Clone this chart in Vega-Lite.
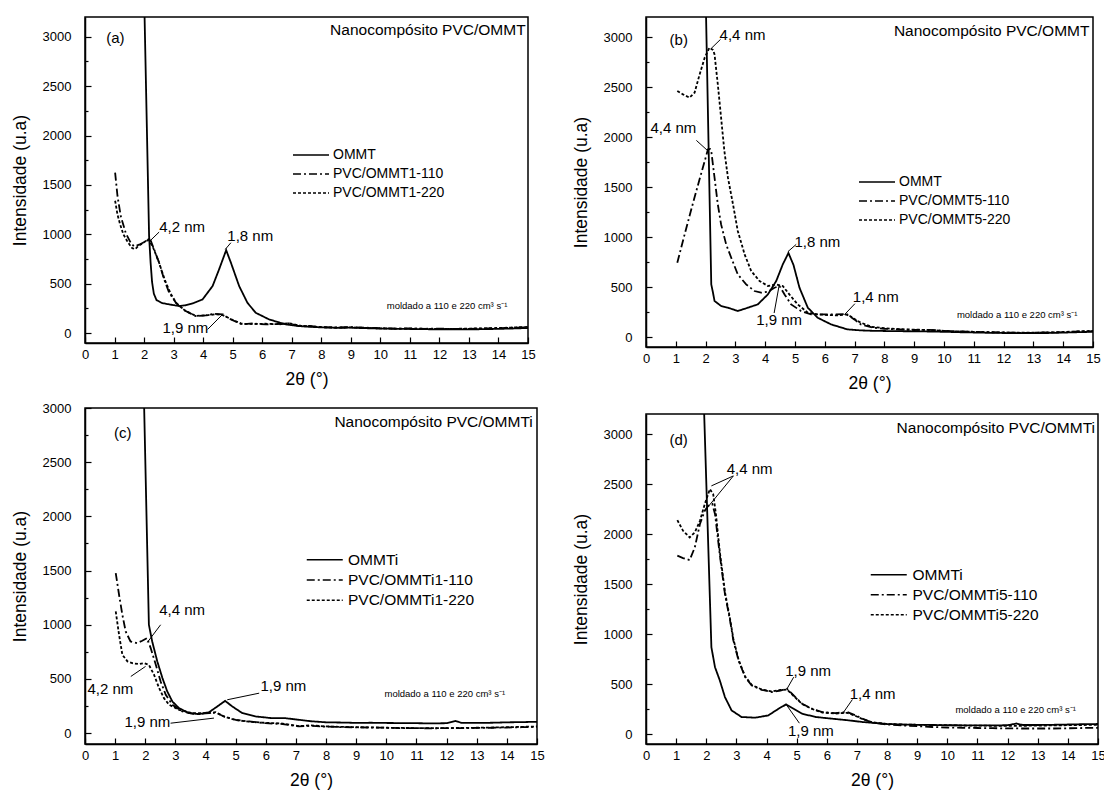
{
  "$schema": "https://vega.github.io/schema/vega-lite/v6.json",
  "background": "white",
  "padding": {"left": 10, "top": 16, "right": 0, "bottom": 0},
  "config": {
    "font": "Liberation Sans",
    "view": {"stroke": "black", "strokeWidth": 1.5},
    "axis": {
      "grid": false, "domainColor": "black", "domainWidth": 1.5,
      "tickColor": "black", "tickWidth": 1.2,
      "labelColor": "black", "titleColor": "black",
      "labelFont": "Liberation Sans", "titleFont": "Liberation Sans",
      "labelFontSize": 13, "titleFontSize": 17.5, "titleFontWeight": "normal",
      "labelOverlap": false, "labelFlush": false
    },
    "axisX": {"labelPadding": 11, "titlePadding": 9},
    "axisY": {"labelPadding": 20, "titlePadding": 12.5},
    "legend": {"labelFont": "Liberation Sans", "labelColor": "black"},
    "text": {"font": "Liberation Sans", "color": "black"}
  },
  "datasets": {
    "a": [
      {"serie":"OMMT","x":1.99,"y":3600},{"serie":"OMMT","x":2.17,"y":983},{"serie":"OMMT","x":2.22,"y":720},{"serie":"OMMT","x":2.27,"y":520},{"serie":"OMMT","x":2.33,"y":400},{"serie":"OMMT","x":2.42,"y":335},{"serie":"OMMT","x":2.6,"y":305},{"serie":"OMMT","x":2.9,"y":288},{"serie":"OMMT","x":3.2,"y":274},{"serie":"OMMT","x":3.4,"y":282},{"serie":"OMMT","x":3.64,"y":300},{"serie":"OMMT","x":3.98,"y":341},{"serie":"OMMT","x":4.32,"y":476},{"serie":"OMMT","x":4.54,"y":645},{"serie":"OMMT","x":4.78,"y":840},{"serie":"OMMT","x":4.94,"y":713},{"serie":"OMMT","x":5.22,"y":476},{"serie":"OMMT","x":5.5,"y":307},{"serie":"OMMT","x":5.78,"y":206},{"serie":"OMMT","x":6.24,"y":138},{"serie":"OMMT","x":6.8,"y":88},{"serie":"OMMT","x":7.25,"y":71},{"serie":"OMMT","x":7.6,"y":64},{"serie":"OMMT","x":8,"y":58},{"serie":"OMMT","x":8.5,"y":54},{"serie":"OMMT","x":9,"y":55},{"serie":"OMMT","x":9.5,"y":50},{"serie":"OMMT","x":10,"y":46},{"serie":"OMMT","x":10.5,"y":44},{"serie":"OMMT","x":11,"y":42},{"serie":"OMMT","x":11.5,"y":40},{"serie":"OMMT","x":12,"y":38},{"serie":"OMMT","x":12.5,"y":37},{"serie":"OMMT","x":13,"y":38},{"serie":"OMMT","x":13.5,"y":40},{"serie":"OMMT","x":14,"y":43},{"serie":"OMMT","x":14.5,"y":47},{"serie":"OMMT","x":15,"y":52},
      {"serie":"PVC/OMMT1-110","x":1.02,"y":1624},{"serie":"PVC/OMMT1-110","x":1.1,"y":1388},{"serie":"PVC/OMMT1-110","x":1.21,"y":1185},{"serie":"PVC/OMMT1-110","x":1.38,"y":1013},{"serie":"PVC/OMMT1-110","x":1.55,"y":912},{"serie":"PVC/OMMT1-110","x":1.66,"y":878},{"serie":"PVC/OMMT1-110","x":1.83,"y":895},{"serie":"PVC/OMMT1-110","x":2.06,"y":929},{"serie":"PVC/OMMT1-110","x":2.2,"y":955},{"serie":"PVC/OMMT1-110","x":2.34,"y":848},{"serie":"PVC/OMMT1-110","x":2.51,"y":713},{"serie":"PVC/OMMT1-110","x":2.68,"y":544},{"serie":"PVC/OMMT1-110","x":2.85,"y":409},{"serie":"PVC/OMMT1-110","x":3.08,"y":307},{"serie":"PVC/OMMT1-110","x":3.41,"y":223},{"serie":"PVC/OMMT1-110","x":3.75,"y":172},{"serie":"PVC/OMMT1-110","x":4.09,"y":179},{"serie":"PVC/OMMT1-110","x":4.37,"y":196},{"serie":"PVC/OMMT1-110","x":4.66,"y":189},{"serie":"PVC/OMMT1-110","x":4.94,"y":138},{"serie":"PVC/OMMT1-110","x":5.33,"y":88},{"serie":"PVC/OMMT1-110","x":5.67,"y":98},{"serie":"PVC/OMMT1-110","x":6.12,"y":88},{"serie":"PVC/OMMT1-110","x":6.69,"y":95},{"serie":"PVC/OMMT1-110","x":6.9,"y":98},{"serie":"PVC/OMMT1-110","x":7.25,"y":71},{"serie":"PVC/OMMT1-110","x":7.6,"y":72},{"serie":"PVC/OMMT1-110","x":8,"y":62},{"serie":"PVC/OMMT1-110","x":8.5,"y":58},{"serie":"PVC/OMMT1-110","x":9,"y":60},{"serie":"PVC/OMMT1-110","x":9.5,"y":55},{"serie":"PVC/OMMT1-110","x":10,"y":50},{"serie":"PVC/OMMT1-110","x":10.5,"y":46},{"serie":"PVC/OMMT1-110","x":11,"y":47},{"serie":"PVC/OMMT1-110","x":11.5,"y":44},{"serie":"PVC/OMMT1-110","x":12,"y":46},{"serie":"PVC/OMMT1-110","x":12.5,"y":42},{"serie":"PVC/OMMT1-110","x":13,"y":44},{"serie":"PVC/OMMT1-110","x":13.5,"y":47},{"serie":"PVC/OMMT1-110","x":14,"y":50},{"serie":"PVC/OMMT1-110","x":14.5,"y":55},{"serie":"PVC/OMMT1-110","x":15,"y":60},
      {"serie":"PVC/OMMT1-220","x":1.02,"y":1340},{"serie":"PVC/OMMT1-220","x":1.1,"y":1200},{"serie":"PVC/OMMT1-220","x":1.19,"y":1100},{"serie":"PVC/OMMT1-220","x":1.3,"y":1000},{"serie":"PVC/OMMT1-220","x":1.45,"y":920},{"serie":"PVC/OMMT1-220","x":1.6,"y":860},{"serie":"PVC/OMMT1-220","x":1.7,"y":850},{"serie":"PVC/OMMT1-220","x":1.8,"y":880},{"serie":"PVC/OMMT1-220","x":2.0,"y":920},{"serie":"PVC/OMMT1-220","x":2.15,"y":950},{"serie":"PVC/OMMT1-220","x":2.3,"y":870},{"serie":"PVC/OMMT1-220","x":2.5,"y":720},{"serie":"PVC/OMMT1-220","x":2.7,"y":540},{"serie":"PVC/OMMT1-220","x":2.9,"y":400},{"serie":"PVC/OMMT1-220","x":3.1,"y":300},{"serie":"PVC/OMMT1-220","x":3.4,"y":225},{"serie":"PVC/OMMT1-220","x":3.75,"y":175},{"serie":"PVC/OMMT1-220","x":4.1,"y":180},{"serie":"PVC/OMMT1-220","x":4.4,"y":190},{"serie":"PVC/OMMT1-220","x":4.65,"y":185},{"serie":"PVC/OMMT1-220","x":4.95,"y":140},{"serie":"PVC/OMMT1-220","x":5.3,"y":95},{"serie":"PVC/OMMT1-220","x":5.7,"y":92},{"serie":"PVC/OMMT1-220","x":6.1,"y":95},{"serie":"PVC/OMMT1-220","x":6.6,"y":90},{"serie":"PVC/OMMT1-220","x":6.9,"y":100},{"serie":"PVC/OMMT1-220","x":7.3,"y":75},{"serie":"PVC/OMMT1-220","x":7.6,"y":70},{"serie":"PVC/OMMT1-220","x":8,"y":60},{"serie":"PVC/OMMT1-220","x":8.5,"y":56},{"serie":"PVC/OMMT1-220","x":9,"y":58},{"serie":"PVC/OMMT1-220","x":9.5,"y":53},{"serie":"PVC/OMMT1-220","x":10,"y":48},{"serie":"PVC/OMMT1-220","x":10.5,"y":45},{"serie":"PVC/OMMT1-220","x":11,"y":45},{"serie":"PVC/OMMT1-220","x":11.5,"y":44},{"serie":"PVC/OMMT1-220","x":12,"y":44},{"serie":"PVC/OMMT1-220","x":12.5,"y":43},{"serie":"PVC/OMMT1-220","x":13,"y":46},{"serie":"PVC/OMMT1-220","x":13.5,"y":48},{"serie":"PVC/OMMT1-220","x":14,"y":52},{"serie":"PVC/OMMT1-220","x":14.5,"y":57},{"serie":"PVC/OMMT1-220","x":15,"y":63}
    ],
    "b": [
      {"serie":"OMMT","x":1.99,"y":3600},{"serie":"OMMT","x":2.19,"y":526},{"serie":"OMMT","x":2.25,"y":440},{"serie":"OMMT","x":2.3,"y":360},{"serie":"OMMT","x":2.52,"y":310},{"serie":"OMMT","x":2.75,"y":293},{"serie":"OMMT","x":3.08,"y":260},{"serie":"OMMT","x":3.42,"y":293},{"serie":"OMMT","x":3.75,"y":326},{"serie":"OMMT","x":4.09,"y":426},{"serie":"OMMT","x":4.37,"y":560},{"serie":"OMMT","x":4.59,"y":726},{"serie":"OMMT","x":4.78,"y":840},{"serie":"OMMT","x":4.95,"y":720},{"serie":"OMMT","x":5.15,"y":493},{"serie":"OMMT","x":5.43,"y":293},{"serie":"OMMT","x":5.76,"y":193},{"serie":"OMMT","x":6.21,"y":126},{"serie":"OMMT","x":6.76,"y":76},{"serie":"OMMT","x":7.21,"y":66},{"serie":"OMMT","x":7.6,"y":62},{"serie":"OMMT","x":8,"y":60},{"serie":"OMMT","x":8.5,"y":58},{"serie":"OMMT","x":9,"y":57},{"serie":"OMMT","x":9.5,"y":55},{"serie":"OMMT","x":10,"y":52},{"serie":"OMMT","x":10.5,"y":48},{"serie":"OMMT","x":11,"y":45},{"serie":"OMMT","x":11.5,"y":42},{"serie":"OMMT","x":12,"y":40},{"serie":"OMMT","x":12.5,"y":38},{"serie":"OMMT","x":13,"y":38},{"serie":"OMMT","x":13.5,"y":40},{"serie":"OMMT","x":14,"y":44},{"serie":"OMMT","x":14.5,"y":48},{"serie":"OMMT","x":15,"y":52},
      {"serie":"PVC/OMMT5-110","x":1.05,"y":743},{"serie":"PVC/OMMT5-110","x":1.3,"y":1030},{"serie":"PVC/OMMT5-110","x":1.55,"y":1310},{"serie":"PVC/OMMT5-110","x":1.8,"y":1580},{"serie":"PVC/OMMT5-110","x":2.08,"y":1876},{"serie":"PVC/OMMT5-110","x":2.15,"y":1880},{"serie":"PVC/OMMT5-110","x":2.19,"y":1860},{"serie":"PVC/OMMT5-110","x":2.3,"y":1593},{"serie":"PVC/OMMT5-110","x":2.41,"y":1326},{"serie":"PVC/OMMT5-110","x":2.52,"y":1126},{"serie":"PVC/OMMT5-110","x":2.69,"y":926},{"serie":"PVC/OMMT5-110","x":2.86,"y":793},{"serie":"PVC/OMMT5-110","x":3.08,"y":626},{"serie":"PVC/OMMT5-110","x":3.36,"y":526},{"serie":"PVC/OMMT5-110","x":3.64,"y":460},{"serie":"PVC/OMMT5-110","x":3.86,"y":443},{"serie":"PVC/OMMT5-110","x":4.09,"y":453},{"serie":"PVC/OMMT5-110","x":4.31,"y":493},{"serie":"PVC/OMMT5-110","x":4.48,"y":510},{"serie":"PVC/OMMT5-110","x":4.65,"y":426},{"serie":"PVC/OMMT5-110","x":4.87,"y":326},{"serie":"PVC/OMMT5-110","x":5.2,"y":260},{"serie":"PVC/OMMT5-110","x":5.54,"y":226},{"serie":"PVC/OMMT5-110","x":5.87,"y":226},{"serie":"PVC/OMMT5-110","x":6.32,"y":226},{"serie":"PVC/OMMT5-110","x":6.71,"y":230},{"serie":"PVC/OMMT5-110","x":6.99,"y":176},{"serie":"PVC/OMMT5-110","x":7.21,"y":126},{"serie":"PVC/OMMT5-110","x":7.6,"y":95},{"serie":"PVC/OMMT5-110","x":8,"y":82},{"serie":"PVC/OMMT5-110","x":8.5,"y":75},{"serie":"PVC/OMMT5-110","x":9,"y":70},{"serie":"PVC/OMMT5-110","x":9.5,"y":72},{"serie":"PVC/OMMT5-110","x":10,"y":62},{"serie":"PVC/OMMT5-110","x":10.5,"y":55},{"serie":"PVC/OMMT5-110","x":11,"y":52},{"serie":"PVC/OMMT5-110","x":11.5,"y":48},{"serie":"PVC/OMMT5-110","x":12,"y":45},{"serie":"PVC/OMMT5-110","x":12.5,"y":42},{"serie":"PVC/OMMT5-110","x":13,"y":42},{"serie":"PVC/OMMT5-110","x":13.5,"y":45},{"serie":"PVC/OMMT5-110","x":14,"y":48},{"serie":"PVC/OMMT5-110","x":14.5,"y":55},{"serie":"PVC/OMMT5-110","x":15,"y":58},
      {"serie":"PVC/OMMT5-220","x":1.05,"y":2460},{"serie":"PVC/OMMT5-220","x":1.24,"y":2426},{"serie":"PVC/OMMT5-220","x":1.46,"y":2393},{"serie":"PVC/OMMT5-220","x":1.63,"y":2443},{"serie":"PVC/OMMT5-220","x":1.8,"y":2626},{"serie":"PVC/OMMT5-220","x":1.97,"y":2793},{"serie":"PVC/OMMT5-220","x":2.13,"y":2893},{"serie":"PVC/OMMT5-220","x":2.25,"y":2870},{"serie":"PVC/OMMT5-220","x":2.3,"y":2826},{"serie":"PVC/OMMT5-220","x":2.41,"y":2526},{"serie":"PVC/OMMT5-220","x":2.52,"y":2193},{"serie":"PVC/OMMT5-220","x":2.63,"y":1860},{"serie":"PVC/OMMT5-220","x":2.75,"y":1593},{"serie":"PVC/OMMT5-220","x":2.92,"y":1326},{"serie":"PVC/OMMT5-220","x":3.08,"y":1060},{"serie":"PVC/OMMT5-220","x":3.31,"y":826},{"serie":"PVC/OMMT5-220","x":3.53,"y":660},{"serie":"PVC/OMMT5-220","x":3.81,"y":560},{"serie":"PVC/OMMT5-220","x":4.09,"y":510},{"serie":"PVC/OMMT5-220","x":4.37,"y":526},{"serie":"PVC/OMMT5-220","x":4.59,"y":510},{"serie":"PVC/OMMT5-220","x":4.81,"y":426},{"serie":"PVC/OMMT5-220","x":5.09,"y":326},{"serie":"PVC/OMMT5-220","x":5.43,"y":243},{"serie":"PVC/OMMT5-220","x":5.76,"y":226},{"serie":"PVC/OMMT5-220","x":6.09,"y":220},{"serie":"PVC/OMMT5-220","x":6.43,"y":216},{"serie":"PVC/OMMT5-220","x":6.76,"y":226},{"serie":"PVC/OMMT5-220","x":7.1,"y":160},{"serie":"PVC/OMMT5-220","x":7.21,"y":143},{"serie":"PVC/OMMT5-220","x":7.6,"y":100},{"serie":"PVC/OMMT5-220","x":8,"y":88},{"serie":"PVC/OMMT5-220","x":8.5,"y":78},{"serie":"PVC/OMMT5-220","x":9,"y":74},{"serie":"PVC/OMMT5-220","x":9.5,"y":70},{"serie":"PVC/OMMT5-220","x":10,"y":62},{"serie":"PVC/OMMT5-220","x":10.5,"y":56},{"serie":"PVC/OMMT5-220","x":11,"y":52},{"serie":"PVC/OMMT5-220","x":11.5,"y":48},{"serie":"PVC/OMMT5-220","x":12,"y":45},{"serie":"PVC/OMMT5-220","x":12.5,"y":44},{"serie":"PVC/OMMT5-220","x":13,"y":44},{"serie":"PVC/OMMT5-220","x":13.5,"y":46},{"serie":"PVC/OMMT5-220","x":14,"y":50},{"serie":"PVC/OMMT5-220","x":14.5,"y":56},{"serie":"PVC/OMMT5-220","x":15,"y":62}
    ],
    "c": [
      {"serie":"OMMTi","x":1.94,"y":3300},{"serie":"OMMTi","x":2.12,"y":1000},{"serie":"OMMTi","x":2.23,"y":846},{"serie":"OMMTi","x":2.4,"y":661},{"serie":"OMMTi","x":2.57,"y":508},{"serie":"OMMTi","x":2.73,"y":385},{"serie":"OMMTi","x":2.9,"y":292},{"serie":"OMMTi","x":3.12,"y":231},{"serie":"OMMTi","x":3.45,"y":185},{"serie":"OMMTi","x":3.79,"y":175},{"serie":"OMMTi","x":4.12,"y":194},{"serie":"OMMTi","x":4.39,"y":246},{"serie":"OMMTi","x":4.65,"y":298},{"serie":"OMMTi","x":4.89,"y":246},{"serie":"OMMTi","x":5.22,"y":185},{"serie":"OMMTi","x":5.66,"y":154},{"serie":"OMMTi","x":6.22,"y":138},{"serie":"OMMTi","x":6.66,"y":138},{"serie":"OMMTi","x":7.1,"y":123},{"serie":"OMMTi","x":7.5,"y":110},{"serie":"OMMTi","x":8,"y":100},{"serie":"OMMTi","x":8.5,"y":98},{"serie":"OMMTi","x":9,"y":95},{"serie":"OMMTi","x":9.5,"y":96},{"serie":"OMMTi","x":10,"y":94},{"serie":"OMMTi","x":10.5,"y":93},{"serie":"OMMTi","x":11,"y":92},{"serie":"OMMTi","x":11.5,"y":90},{"serie":"OMMTi","x":12,"y":92},{"serie":"OMMTi","x":12.3,"y":112},{"serie":"OMMTi","x":12.5,"y":95},{"serie":"OMMTi","x":13,"y":94},{"serie":"OMMTi","x":13.5,"y":96},{"serie":"OMMTi","x":14,"y":100},{"serie":"OMMTi","x":14.5,"y":102},{"serie":"OMMTi","x":15,"y":105},
      {"serie":"PVC/OMMTi1-110","x":1.02,"y":1477},{"serie":"PVC/OMMTi1-110","x":1.13,"y":1277},{"serie":"PVC/OMMTi1-110","x":1.24,"y":1092},{"serie":"PVC/OMMTi1-110","x":1.35,"y":938},{"serie":"PVC/OMMTi1-110","x":1.51,"y":846},{"serie":"PVC/OMMTi1-110","x":1.73,"y":831},{"serie":"PVC/OMMTi1-110","x":1.9,"y":852},{"serie":"PVC/OMMTi1-110","x":2.06,"y":877},{"serie":"PVC/OMMTi1-110","x":2.18,"y":785},{"serie":"PVC/OMMTi1-110","x":2.35,"y":631},{"serie":"PVC/OMMTi1-110","x":2.51,"y":477},{"serie":"PVC/OMMTi1-110","x":2.68,"y":354},{"serie":"PVC/OMMTi1-110","x":2.9,"y":262},{"serie":"PVC/OMMTi1-110","x":3.23,"y":200},{"serie":"PVC/OMMTi1-110","x":3.67,"y":175},{"serie":"PVC/OMMTi1-110","x":4.12,"y":185},{"serie":"PVC/OMMTi1-110","x":4.34,"y":190},{"serie":"PVC/OMMTi1-110","x":4.61,"y":154},{"serie":"PVC/OMMTi1-110","x":5.0,"y":123},{"serie":"PVC/OMMTi1-110","x":5.44,"y":108},{"serie":"PVC/OMMTi1-110","x":5.99,"y":92},{"serie":"PVC/OMMTi1-110","x":6.5,"y":85},{"serie":"PVC/OMMTi1-110","x":7.1,"y":62},{"serie":"PVC/OMMTi1-110","x":7.5,"y":68},{"serie":"PVC/OMMTi1-110","x":8,"y":60},{"serie":"PVC/OMMTi1-110","x":8.5,"y":56},{"serie":"PVC/OMMTi1-110","x":9,"y":54},{"serie":"PVC/OMMTi1-110","x":9.5,"y":52},{"serie":"PVC/OMMTi1-110","x":10,"y":50},{"serie":"PVC/OMMTi1-110","x":10.5,"y":47},{"serie":"PVC/OMMTi1-110","x":11,"y":46},{"serie":"PVC/OMMTi1-110","x":11.5,"y":45},{"serie":"PVC/OMMTi1-110","x":12,"y":46},{"serie":"PVC/OMMTi1-110","x":12.5,"y":47},{"serie":"PVC/OMMTi1-110","x":13,"y":48},{"serie":"PVC/OMMTi1-110","x":13.5,"y":50},{"serie":"PVC/OMMTi1-110","x":14,"y":52},{"serie":"PVC/OMMTi1-110","x":14.5,"y":55},{"serie":"PVC/OMMTi1-110","x":15,"y":58},
      {"serie":"PVC/OMMTi1-220","x":1.02,"y":1123},{"serie":"PVC/OMMTi1-220","x":1.13,"y":908},{"serie":"PVC/OMMTi1-220","x":1.24,"y":723},{"serie":"PVC/OMMTi1-220","x":1.41,"y":662},{"serie":"PVC/OMMTi1-220","x":1.57,"y":646},{"serie":"PVC/OMMTi1-220","x":1.79,"y":637},{"serie":"PVC/OMMTi1-220","x":1.96,"y":646},{"serie":"PVC/OMMTi1-220","x":2.12,"y":631},{"serie":"PVC/OMMTi1-220","x":2.29,"y":539},{"serie":"PVC/OMMTi1-220","x":2.46,"y":415},{"serie":"PVC/OMMTi1-220","x":2.62,"y":323},{"serie":"PVC/OMMTi1-220","x":2.79,"y":262},{"serie":"PVC/OMMTi1-220","x":3.12,"y":215},{"serie":"PVC/OMMTi1-220","x":3.56,"y":185},{"serie":"PVC/OMMTi1-220","x":4.12,"y":185},{"serie":"PVC/OMMTi1-220","x":4.34,"y":194},{"serie":"PVC/OMMTi1-220","x":4.61,"y":154},{"serie":"PVC/OMMTi1-220","x":5.0,"y":120},{"serie":"PVC/OMMTi1-220","x":5.5,"y":105},{"serie":"PVC/OMMTi1-220","x":6.0,"y":95},{"serie":"PVC/OMMTi1-220","x":6.5,"y":90},{"serie":"PVC/OMMTi1-220","x":7.1,"y":65},{"serie":"PVC/OMMTi1-220","x":7.5,"y":72},{"serie":"PVC/OMMTi1-220","x":8,"y":62},{"serie":"PVC/OMMTi1-220","x":8.5,"y":58},{"serie":"PVC/OMMTi1-220","x":9,"y":55},{"serie":"PVC/OMMTi1-220","x":9.5,"y":53},{"serie":"PVC/OMMTi1-220","x":10,"y":50},{"serie":"PVC/OMMTi1-220","x":10.5,"y":48},{"serie":"PVC/OMMTi1-220","x":11,"y":47},{"serie":"PVC/OMMTi1-220","x":11.5,"y":46},{"serie":"PVC/OMMTi1-220","x":12,"y":47},{"serie":"PVC/OMMTi1-220","x":12.5,"y":48},{"serie":"PVC/OMMTi1-220","x":13,"y":50},{"serie":"PVC/OMMTi1-220","x":13.5,"y":52},{"serie":"PVC/OMMTi1-220","x":14,"y":55},{"serie":"PVC/OMMTi1-220","x":14.5,"y":58},{"serie":"PVC/OMMTi1-220","x":15,"y":62}
    ],
    "d": [
      {"serie":"OMMTi","x":1.9,"y":3500},{"serie":"OMMTi","x":2.17,"y":868},{"serie":"OMMTi","x":2.29,"y":668},{"serie":"OMMTi","x":2.45,"y":535},{"serie":"OMMTi","x":2.62,"y":369},{"serie":"OMMTi","x":2.84,"y":236},{"serie":"OMMTi","x":3.17,"y":170},{"serie":"OMMTi","x":3.62,"y":163},{"serie":"OMMTi","x":4.06,"y":186},{"serie":"OMMTi","x":4.4,"y":253},{"serie":"OMMTi","x":4.65,"y":296},{"serie":"OMMTi","x":4.9,"y":253},{"serie":"OMMTi","x":5.18,"y":203},{"serie":"OMMTi","x":5.63,"y":170},{"serie":"OMMTi","x":6.18,"y":153},{"serie":"OMMTi","x":6.74,"y":136},{"serie":"OMMTi","x":7.18,"y":120},{"serie":"OMMTi","x":7.5,"y":112},{"serie":"OMMTi","x":8,"y":100},{"serie":"OMMTi","x":8.5,"y":95},{"serie":"OMMTi","x":9,"y":92},{"serie":"OMMTi","x":9.5,"y":90},{"serie":"OMMTi","x":10,"y":88},{"serie":"OMMTi","x":10.5,"y":87},{"serie":"OMMTi","x":11,"y":86},{"serie":"OMMTi","x":11.5,"y":86},{"serie":"OMMTi","x":12,"y":88},{"serie":"OMMTi","x":12.3,"y":105},{"serie":"OMMTi","x":12.5,"y":90},{"serie":"OMMTi","x":13,"y":90},{"serie":"OMMTi","x":13.5,"y":92},{"serie":"OMMTi","x":14,"y":95},{"serie":"OMMTi","x":14.5,"y":98},{"serie":"OMMTi","x":15,"y":100},
      {"serie":"PVC/OMMTi5-110","x":1.04,"y":1783},{"serie":"PVC/OMMTi5-110","x":1.23,"y":1759},{"serie":"PVC/OMMTi5-110","x":1.45,"y":1739},{"serie":"PVC/OMMTi5-110","x":1.62,"y":1866},{"serie":"PVC/OMMTi5-110","x":1.79,"y":2100},{"serie":"PVC/OMMTi5-110","x":1.95,"y":2233},{"serie":"PVC/OMMTi5-110","x":2.06,"y":2280},{"serie":"PVC/OMMTi5-110","x":2.2,"y":2300},{"serie":"PVC/OMMTi5-110","x":2.29,"y":2200},{"serie":"PVC/OMMTi5-110","x":2.45,"y":1790},{"serie":"PVC/OMMTi5-110","x":2.62,"y":1400},{"serie":"PVC/OMMTi5-110","x":2.79,"y":1134},{"serie":"PVC/OMMTi5-110","x":2.9,"y":935},{"serie":"PVC/OMMTi5-110","x":3.07,"y":735},{"serie":"PVC/OMMTi5-110","x":3.29,"y":569},{"serie":"PVC/OMMTi5-110","x":3.51,"y":485},{"serie":"PVC/OMMTi5-110","x":3.84,"y":442},{"serie":"PVC/OMMTi5-110","x":4.18,"y":419},{"serie":"PVC/OMMTi5-110","x":4.46,"y":435},{"serie":"PVC/OMMTi5-110","x":4.68,"y":452},{"serie":"PVC/OMMTi5-110","x":4.9,"y":386},{"serie":"PVC/OMMTi5-110","x":5.18,"y":303},{"serie":"PVC/OMMTi5-110","x":5.51,"y":253},{"serie":"PVC/OMMTi5-110","x":5.85,"y":219},{"serie":"PVC/OMMTi5-110","x":6.29,"y":209},{"serie":"PVC/OMMTi5-110","x":6.68,"y":219},{"serie":"PVC/OMMTi5-110","x":6.96,"y":186},{"serie":"PVC/OMMTi5-110","x":7.18,"y":153},{"serie":"PVC/OMMTi5-110","x":7.5,"y":115},{"serie":"PVC/OMMTi5-110","x":8,"y":95},{"serie":"PVC/OMMTi5-110","x":8.5,"y":85},{"serie":"PVC/OMMTi5-110","x":9,"y":78},{"serie":"PVC/OMMTi5-110","x":9.5,"y":70},{"serie":"PVC/OMMTi5-110","x":10,"y":65},{"serie":"PVC/OMMTi5-110","x":10.5,"y":62},{"serie":"PVC/OMMTi5-110","x":11,"y":60},{"serie":"PVC/OMMTi5-110","x":11.5,"y":58},{"serie":"PVC/OMMTi5-110","x":12,"y":56},{"serie":"PVC/OMMTi5-110","x":12.5,"y":55},{"serie":"PVC/OMMTi5-110","x":13,"y":55},{"serie":"PVC/OMMTi5-110","x":13.5,"y":55},{"serie":"PVC/OMMTi5-110","x":14,"y":57},{"serie":"PVC/OMMTi5-110","x":14.5,"y":60},{"serie":"PVC/OMMTi5-110","x":15,"y":62},
      {"serie":"PVC/OMMTi5-220","x":1.04,"y":2139},{"serie":"PVC/OMMTi5-220","x":1.23,"y":2032},{"serie":"PVC/OMMTi5-220","x":1.45,"y":1966},{"serie":"PVC/OMMTi5-220","x":1.62,"y":2016},{"serie":"PVC/OMMTi5-220","x":1.79,"y":2132},{"serie":"PVC/OMMTi5-220","x":1.95,"y":2299},{"serie":"PVC/OMMTi5-220","x":2.12,"y":2449},{"serie":"PVC/OMMTi5-220","x":2.23,"y":2399},{"serie":"PVC/OMMTi5-220","x":2.32,"y":2200},{"serie":"PVC/OMMTi5-220","x":2.45,"y":1820},{"serie":"PVC/OMMTi5-220","x":2.62,"y":1420},{"serie":"PVC/OMMTi5-220","x":2.79,"y":1150},{"serie":"PVC/OMMTi5-220","x":2.9,"y":950},{"serie":"PVC/OMMTi5-220","x":3.07,"y":745},{"serie":"PVC/OMMTi5-220","x":3.29,"y":575},{"serie":"PVC/OMMTi5-220","x":3.51,"y":490},{"serie":"PVC/OMMTi5-220","x":3.84,"y":445},{"serie":"PVC/OMMTi5-220","x":4.18,"y":425},{"serie":"PVC/OMMTi5-220","x":4.46,"y":440},{"serie":"PVC/OMMTi5-220","x":4.68,"y":445},{"serie":"PVC/OMMTi5-220","x":4.9,"y":380},{"serie":"PVC/OMMTi5-220","x":5.18,"y":300},{"serie":"PVC/OMMTi5-220","x":5.51,"y":250},{"serie":"PVC/OMMTi5-220","x":5.85,"y":215},{"serie":"PVC/OMMTi5-220","x":6.29,"y":205},{"serie":"PVC/OMMTi5-220","x":6.68,"y":212},{"serie":"PVC/OMMTi5-220","x":6.96,"y":180},{"serie":"PVC/OMMTi5-220","x":7.18,"y":150},{"serie":"PVC/OMMTi5-220","x":7.5,"y":118},{"serie":"PVC/OMMTi5-220","x":8,"y":100},{"serie":"PVC/OMMTi5-220","x":8.5,"y":95},{"serie":"PVC/OMMTi5-220","x":9,"y":92},{"serie":"PVC/OMMTi5-220","x":9.5,"y":90},{"serie":"PVC/OMMTi5-220","x":10,"y":88},{"serie":"PVC/OMMTi5-220","x":10.5,"y":85},{"serie":"PVC/OMMTi5-220","x":11,"y":84},{"serie":"PVC/OMMTi5-220","x":11.5,"y":82},{"serie":"PVC/OMMTi5-220","x":12,"y":82},{"serie":"PVC/OMMTi5-220","x":12.5,"y":82},{"serie":"PVC/OMMTi5-220","x":13,"y":84},{"serie":"PVC/OMMTi5-220","x":13.5,"y":86},{"serie":"PVC/OMMTi5-220","x":14,"y":88},{"serie":"PVC/OMMTi5-220","x":14.5,"y":90},{"serie":"PVC/OMMTi5-220","x":15,"y":92}
    ],
    "notes": [
      {"panel":"a","kind":"mark","x":0.72,"y":2984,"text":"(a)"},
      {"panel":"a","kind":"mark","x":2.51,"y":1076,"text":"4,2 nm"},
      {"panel":"a","kind":"mark","x":4.82,"y":983,"text":"1,8 nm"},
      {"panel":"a","kind":"mark","x":2.62,"y":54,"text":"1,9 nm"},
      {"panel":"a","kind":"head","x":14.92,"y":3068,"text":"Nanocompósito PVC/OMMT"},
      {"panel":"a","kind":"cond","x":14.3,"y":274,"text":"moldado a 110 e 220 cm³ s⁻¹"},
      {"panel":"b","kind":"mark","x":0.79,"y":2968,"text":"(b)"},
      {"panel":"b","kind":"mark","x":2.47,"y":3018,"text":"4,4 nm"},
      {"panel":"b","kind":"mark","x":0.15,"y":2088,"text":"4,4 nm"},
      {"panel":"b","kind":"mark","x":4.98,"y":953,"text":"1,8 nm"},
      {"panel":"b","kind":"mark","x":3.7,"y":170,"text":"1,9 nm"},
      {"panel":"b","kind":"mark","x":6.94,"y":398,"text":"1,4 nm"},
      {"panel":"b","kind":"head","x":14.88,"y":3065,"text":"Nanocompósito PVC/OMMT"},
      {"panel":"b","kind":"cond","x":14.48,"y":223,"text":"moldado a 110 e 220 cm³ s⁻¹"},
      {"panel":"c","kind":"mark","x":0.96,"y":2770,"text":"(c)"},
      {"panel":"c","kind":"mark","x":2.46,"y":1133,"text":"4,4 nm"},
      {"panel":"c","kind":"mark","x":0.08,"y":408,"text":"4,2 nm"},
      {"panel":"c","kind":"mark","x":5.82,"y":439,"text":"1,9 nm"},
      {"panel":"c","kind":"mark","x":1.31,"y":102,"text":"1,9 nm"},
      {"panel":"c","kind":"head","x":14.86,"y":2870,"text":"Nanocompósito PVC/OMMTi"},
      {"panel":"c","kind":"cond","x":13.94,"y":360,"text":"moldado a 110 e 220 cm³ s⁻¹"},
      {"panel":"d","kind":"mark","x":0.78,"y":2940,"text":"(d)"},
      {"panel":"d","kind":"mark","x":2.68,"y":2648,"text":"4,4 nm"},
      {"panel":"d","kind":"mark","x":4.62,"y":629,"text":"1,9 nm"},
      {"panel":"d","kind":"mark","x":4.71,"y":30,"text":"1,9 nm"},
      {"panel":"d","kind":"mark","x":6.76,"y":397,"text":"1,4 nm"},
      {"panel":"d","kind":"head","x":14.9,"y":3059,"text":"Nanocompósito PVC/OMMTi"},
      {"panel":"d","kind":"cond","x":14.27,"y":243,"text":"moldado a 110 e 220 cm³ s⁻¹"}
    ],
    "leaders": [
      {"panel":"a","x":2.23,"y":942,"x2":2.51,"y2":1023},
      {"panel":"a","x":4.75,"y":848,"x2":4.94,"y2":915},
      {"panel":"a","x":4.15,"y":37,"x2":4.68,"y2":196},
      {"panel":"b","x":2.19,"y":2886,"x2":2.5,"y2":2976},
      {"panel":"b","x":1.69,"y":1966,"x2":2.06,"y2":1866},
      {"panel":"b","x":4.76,"y":853,"x2":5.04,"y2":926},
      {"panel":"b","x":4.3,"y":240,"x2":4.47,"y2":520},
      {"panel":"b","x":6.66,"y":223,"x2":7.01,"y2":333},
      {"panel":"c","x":2.07,"y":838,"x2":2.51,"y2":1000},
      {"panel":"c","x":1.52,"y":523,"x2":2.01,"y2":616},
      {"panel":"c","x":4.72,"y":308,"x2":5.78,"y2":369},
      {"panel":"c","x":2.84,"y":92,"x2":4.28,"y2":139},
      {"panel":"d","x":2.9,"y":2581,"x2":2.17,"y2":2481},
      {"panel":"d","x":2.9,"y":2581,"x2":2.06,"y2":2272},
      {"panel":"d","x":4.68,"y":452,"x2":4.9,"y2":568},
      {"panel":"d","x":4.65,"y":296,"x2":5.09,"y2":108},
      {"panel":"d","x":6.55,"y":215,"x2":6.85,"y2":345}
    ]
  },
  "hconcat": [
    {
      "vconcat": [
        {
          "width": 443, "height": 326,
          "encoding": {
            "x": {"field": "x", "type": "quantitative", "scale": {"domain": [0, 15], "nice": false, "zero": false},
              "axis": {"title": "2θ (°)", "values": [0,0.5,1,1.5,2,2.5,3,3.5,4,4.5,5,5.5,6,6.5,7,7.5,8,8.5,9,9.5,10,10.5,11,11.5,12,12.5,13,13.5,14,14.5,15], "format": "d", "labelExpr": "datum.value % 1 === 0 ? datum.label : ''", "tickSize": {"condition": {"test": "datum.value % 1 === 0", "value": -6}, "value": -3}}},
            "y": {"field": "y", "type": "quantitative", "scale": {"domain": [-100, 3200], "nice": false, "zero": false},
              "axis": {"title": "Intensidade (u.a)", "values": [0,250,500,750,1000,1250,1500,1750,2000,2250,2500,2750,3000], "format": "d", "labelExpr": "datum.value % 500 === 0 ? datum.label : ''", "tickSize": {"condition": {"test": "datum.value % 500 === 0", "value": -6}, "value": -3}}}
          },
          "layer": [
            {"data": {"name": "a"}, "mark": {"type": "line", "clip": true, "color": "black", "strokeWidth": 1.8},
              "encoding": {"strokeDash": {"field": "serie", "type": "nominal",
                "scale": {"domain": ["OMMT", "PVC/OMMT1-110", "PVC/OMMT1-220"], "range": [[1, 0], [8, 3, 2, 3], [3, 2]]},
                "legend": {"orient": "none", "legendX": 219, "legendY": 131, "title": null, "symbolType": "M-3,0H3", "symbolSize": 144, "symbolStrokeWidth": 1.5, "symbolStrokeColor": "black", "symbolFillColor": "transparent", "labelFontSize": 14, "labelOffset": 15, "rowPadding": 5, "padding": 0}}}},
            {"data": {"name": "leaders"}, "transform": [{"filter": "datum.panel === 'a'"}], "mark": {"type": "rule", "color": "black", "strokeWidth": 1},
              "encoding": {"x2": {"field": "x2"}, "y2": {"field": "y2"}}},
            {"data": {"name": "notes"}, "transform": [{"filter": "datum.panel === 'a' && datum.kind === 'mark'"}], "mark": {"type": "text", "align": "left", "baseline": "middle", "fontSize": 15},
              "encoding": {"text": {"field": "text"}}},
            {"data": {"name": "notes"}, "transform": [{"filter": "datum.panel === 'a' && datum.kind === 'head'"}], "mark": {"type": "text", "align": "right", "baseline": "middle", "fontSize": 15.5},
              "encoding": {"text": {"field": "text"}}},
            {"data": {"name": "notes"}, "transform": [{"filter": "datum.panel === 'a' && datum.kind === 'cond'"}], "mark": {"type": "text", "align": "right", "baseline": "middle", "fontSize": 9.5},
              "encoding": {"text": {"field": "text"}}}
          ]
        },
        {
          "width": 452, "height": 336,
          "encoding": {
            "x": {"field": "x", "type": "quantitative", "scale": {"domain": [0, 15], "nice": false, "zero": false},
              "axis": {"title": "2θ (°)", "values": [0,0.5,1,1.5,2,2.5,3,3.5,4,4.5,5,5.5,6,6.5,7,7.5,8,8.5,9,9.5,10,10.5,11,11.5,12,12.5,13,13.5,14,14.5,15], "format": "d", "labelExpr": "datum.value % 1 === 0 ? datum.label : ''", "tickSize": {"condition": {"test": "datum.value % 1 === 0", "value": -6}, "value": -3}}},
            "y": {"field": "y", "type": "quantitative", "scale": {"domain": [-100, 3000], "nice": false, "zero": false},
              "axis": {"title": "Intensidade (u.a)", "values": [0,250,500,750,1000,1250,1500,1750,2000,2250,2500,2750,3000], "format": "d", "labelExpr": "datum.value % 500 === 0 ? datum.label : ''", "tickSize": {"condition": {"test": "datum.value % 500 === 0", "value": -6}, "value": -3}}}
          },
          "layer": [
            {"data": {"name": "c"}, "mark": {"type": "line", "clip": true, "color": "black", "strokeWidth": 1.8},
              "encoding": {"strokeDash": {"field": "serie", "type": "nominal",
                "scale": {"domain": ["OMMTi", "PVC/OMMTi1-110", "PVC/OMMTi1-220"], "range": [[1, 0], [8, 3, 2, 3], [3, 2]]},
                "legend": {"orient": "none", "legendX": 232, "legendY": 144, "title": null, "symbolType": "M-3,0H3", "symbolSize": 144, "symbolStrokeWidth": 1.5, "symbolStrokeColor": "black", "symbolFillColor": "transparent", "labelFontSize": 15.5, "labelOffset": 15.5, "rowPadding": 3.3, "padding": 0}}}},
            {"data": {"name": "leaders"}, "transform": [{"filter": "datum.panel === 'c'"}], "mark": {"type": "rule", "color": "black", "strokeWidth": 1},
              "encoding": {"x2": {"field": "x2"}, "y2": {"field": "y2"}}},
            {"data": {"name": "notes"}, "transform": [{"filter": "datum.panel === 'c' && datum.kind === 'mark'"}], "mark": {"type": "text", "align": "left", "baseline": "middle", "fontSize": 15},
              "encoding": {"text": {"field": "text"}}},
            {"data": {"name": "notes"}, "transform": [{"filter": "datum.panel === 'c' && datum.kind === 'head'"}], "mark": {"type": "text", "align": "right", "baseline": "middle", "fontSize": 15.5},
              "encoding": {"text": {"field": "text"}}},
            {"data": {"name": "notes"}, "transform": [{"filter": "datum.panel === 'c' && datum.kind === 'cond'"}], "mark": {"type": "text", "align": "right", "baseline": "middle", "fontSize": 9.5},
              "encoding": {"text": {"field": "text"}}}
          ]
        }
      ],
      "spacing": 65,
      "bounds": "flush",
      "resolve": {"scale": {"x": "independent", "y": "independent", "strokeDash": "independent"}, "legend": {"strokeDash": "independent"}}
    },
    {
      "vconcat": [
        {
          "width": 447, "height": 330,
          "encoding": {
            "x": {"field": "x", "type": "quantitative", "scale": {"domain": [0, 15], "nice": false, "zero": false},
              "axis": {"title": "2θ (°)", "values": [0,0.5,1,1.5,2,2.5,3,3.5,4,4.5,5,5.5,6,6.5,7,7.5,8,8.5,9,9.5,10,10.5,11,11.5,12,12.5,13,13.5,14,14.5,15], "format": "d", "labelExpr": "datum.value % 1 === 0 ? datum.label : ''", "tickSize": {"condition": {"test": "datum.value % 1 === 0", "value": -6}, "value": -3}}},
            "y": {"field": "y", "type": "quantitative", "scale": {"domain": [-100, 3200], "nice": false, "zero": false},
              "axis": {"title": "Intensidade (u.a)", "values": [0,250,500,750,1000,1250,1500,1750,2000,2250,2500,2750,3000], "format": "d", "labelExpr": "datum.value % 500 === 0 ? datum.label : ''", "tickSize": {"condition": {"test": "datum.value % 500 === 0", "value": -6}, "value": -3}}}
          },
          "layer": [
            {"data": {"name": "b"}, "mark": {"type": "line", "clip": true, "color": "black", "strokeWidth": 1.8},
              "encoding": {"strokeDash": {"field": "serie", "type": "nominal",
                "scale": {"domain": ["OMMT", "PVC/OMMT5-110", "PVC/OMMT5-220"], "range": [[1, 0], [8, 3, 2, 3], [3, 2]]},
                "legend": {"orient": "none", "legendX": 224, "legendY": 158, "title": null, "symbolType": "M-3,0H3", "symbolSize": 144, "symbolStrokeWidth": 1.5, "symbolStrokeColor": "black", "symbolFillColor": "transparent", "labelFontSize": 14, "labelOffset": 15, "rowPadding": 5, "padding": 0}}}},
            {"data": {"name": "leaders"}, "transform": [{"filter": "datum.panel === 'b'"}], "mark": {"type": "rule", "color": "black", "strokeWidth": 1},
              "encoding": {"x2": {"field": "x2"}, "y2": {"field": "y2"}}},
            {"data": {"name": "notes"}, "transform": [{"filter": "datum.panel === 'b' && datum.kind === 'mark'"}], "mark": {"type": "text", "align": "left", "baseline": "middle", "fontSize": 15},
              "encoding": {"text": {"field": "text"}}},
            {"data": {"name": "notes"}, "transform": [{"filter": "datum.panel === 'b' && datum.kind === 'head'"}], "mark": {"type": "text", "align": "right", "baseline": "middle", "fontSize": 15.5},
              "encoding": {"text": {"field": "text"}}},
            {"data": {"name": "notes"}, "transform": [{"filter": "datum.panel === 'b' && datum.kind === 'cond'"}], "mark": {"type": "text", "align": "right", "baseline": "middle", "fontSize": 9.5},
              "encoding": {"text": {"field": "text"}}}
          ]
        },
        {
          "width": 452, "height": 330,
          "encoding": {
            "x": {"field": "x", "type": "quantitative", "scale": {"domain": [0, 15], "nice": false, "zero": false},
              "axis": {"title": "2θ (°)", "values": [0,0.5,1,1.5,2,2.5,3,3.5,4,4.5,5,5.5,6,6.5,7,7.5,8,8.5,9,9.5,10,10.5,11,11.5,12,12.5,13,13.5,14,14.5,15], "format": "d", "labelExpr": "datum.value % 1 === 0 ? datum.label : ''", "tickSize": {"condition": {"test": "datum.value % 1 === 0", "value": -6}, "value": -3}}},
            "y": {"field": "y", "type": "quantitative", "scale": {"domain": [-100, 3200], "nice": false, "zero": false},
              "axis": {"title": "Intensidade (u.a)", "values": [0,250,500,750,1000,1250,1500,1750,2000,2250,2500,2750,3000], "format": "d", "labelExpr": "datum.value % 500 === 0 ? datum.label : ''", "tickSize": {"condition": {"test": "datum.value % 500 === 0", "value": -6}, "value": -3}}}
          },
          "layer": [
            {"data": {"name": "d"}, "mark": {"type": "line", "clip": true, "color": "black", "strokeWidth": 1.8},
              "encoding": {"strokeDash": {"field": "serie", "type": "nominal",
                "scale": {"domain": ["OMMTi", "PVC/OMMTi5-110", "PVC/OMMTi5-220"], "range": [[1, 0], [8, 3, 2, 3], [3, 2]]},
                "legend": {"orient": "none", "legendX": 235, "legendY": 153, "title": null, "symbolType": "M-3,0H3", "symbolSize": 144, "symbolStrokeWidth": 1.5, "symbolStrokeColor": "black", "symbolFillColor": "transparent", "labelFontSize": 15.5, "labelOffset": 16, "rowPadding": 3, "padding": 0}}}},
            {"data": {"name": "leaders"}, "transform": [{"filter": "datum.panel === 'd'"}], "mark": {"type": "rule", "color": "black", "strokeWidth": 1},
              "encoding": {"x2": {"field": "x2"}, "y2": {"field": "y2"}}},
            {"data": {"name": "notes"}, "transform": [{"filter": "datum.panel === 'd' && datum.kind === 'mark'"}], "mark": {"type": "text", "align": "left", "baseline": "middle", "fontSize": 15},
              "encoding": {"text": {"field": "text"}}},
            {"data": {"name": "notes"}, "transform": [{"filter": "datum.panel === 'd' && datum.kind === 'head'"}], "mark": {"type": "text", "align": "right", "baseline": "middle", "fontSize": 15.5},
              "encoding": {"text": {"field": "text"}}},
            {"data": {"name": "notes"}, "transform": [{"filter": "datum.panel === 'd' && datum.kind === 'cond'"}], "mark": {"type": "text", "align": "right", "baseline": "middle", "fontSize": 9.5},
              "encoding": {"text": {"field": "text"}}}
          ]
        }
      ],
      "spacing": 67,
      "bounds": "flush",
      "resolve": {"scale": {"x": "independent", "y": "independent", "strokeDash": "independent"}, "legend": {"strokeDash": "independent"}}
    }
  ],
  "spacing": 26,
  "resolve": {"scale": {"x": "independent", "y": "independent", "strokeDash": "independent"}, "legend": {"strokeDash": "independent"}}
}
